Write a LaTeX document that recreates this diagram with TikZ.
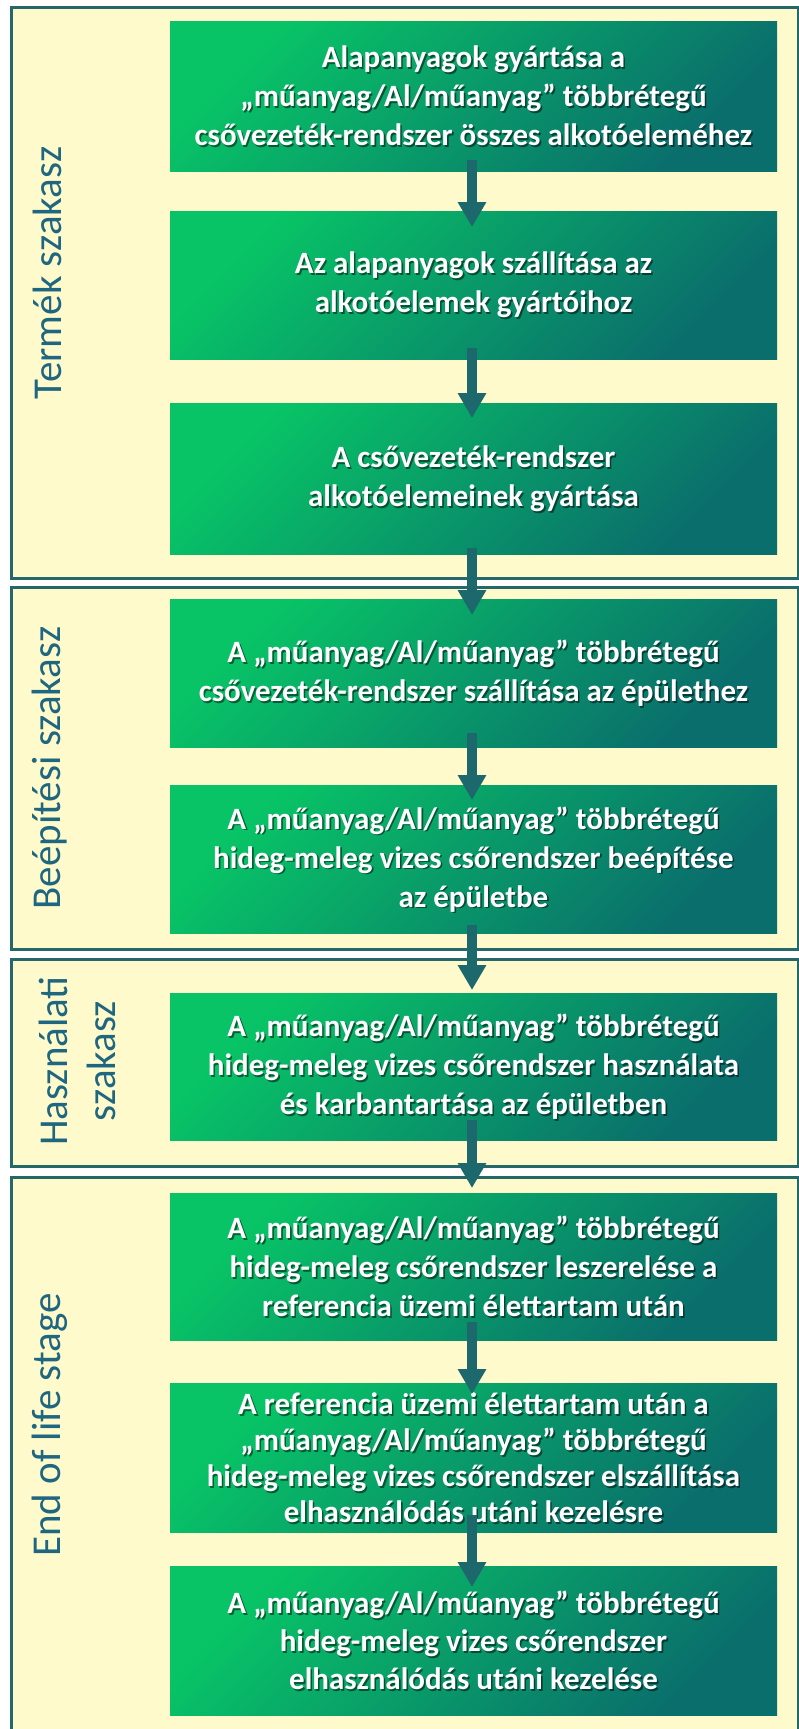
\documentclass[tikz,border=0pt]{standalone}
\usepackage{fontspec}
\setmainfont{Carlito}
\usetikzlibrary{calc,arrows.meta}
\definecolor{framefill}{HTML}{FFFACC}
\definecolor{framedraw}{HTML}{25676B}
\definecolor{arrowc}{HTML}{1C686C}
\definecolor{labelc}{HTML}{1F6680}
\definecolor{gtop}{HTML}{08C466}
\definecolor{gbot}{HTML}{0A6E6C}
\tikzset{
  stageframe/.style={draw=framedraw, line width=3pt, fill=framefill},
  gbox/.style={rectangle, inner sep=0pt, minimum width=607pt, top color=gtop, bottom color=gbot, shading angle=45, anchor=north},
  boxtext/.style={align=center, text=white, inner sep=0pt},
  boxshadow/.style={boxtext, text=black, text opacity=0.5},
  stagelabel/.style={rotate=90, align=center, text=labelc, font=\fontsize{41}{48}\selectfont, inner sep=0pt},
  flowarrow/.style={draw=arrowc, line width=10pt, -{Triangle[width=27pt,length=25pt]}},
}
\newcommand\flowbox[5]{%
  \node[gbox, minimum height=#3pt] (#1) at (473.5,#2) {};
  \node[boxshadow, font=\bfseries\fontsize{31}{#4}\selectfont] (#1s) at ($(#1.center)+(1.6,1.6)$) {#5};
  \node[boxtext, font=\bfseries\fontsize{31}{#4}\selectfont] (#1t) at (#1.center) {#5};
}
\newcommand\linkarrow[4]{\draw[flowarrow] ($(#1.south)+(-1.5,-#3)$) -- ($(#2.north)+(-1.5,#4)$);}
\begin{document}
\begin{tikzpicture}[x=1pt,y=-1pt]
\useasboundingbox (0,0) rectangle (799,1729);
\clip (0,0) rectangle (799,1729);
\fill[white] (0,0) rectangle (799,1729);
% stage frames
\draw[stageframe] (11,7) rectangle (798,578);
\draw[stageframe] (11,587) rectangle (798,949);
\draw[stageframe] (11,959) rectangle (798,1166);
\draw[stageframe] (11,1177) rectangle (798,1760);
% stage labels
\node[stagelabel] (l1) at (47,273) {Termék szakasz};
\node[stagelabel] (l2) at (50,768) {Beépítési szakasz};
\node[stagelabel] (l3) at (77,1061) {Használati\\szakasz};
\node[stagelabel] (l4) at (50,1425) {End of life stage};
% boxes
\flowbox{b1}{21}{150}{39}{Alapanyagok gyártása a\\„műanyag/Al/műanyag” többrétegű\\csővezeték-rendszer összes alkotóeleméhez}
\flowbox{b2}{211}{148}{39}{Az alapanyagok szállítása az\\alkotóelemek gyártóihoz}
\flowbox{b3}{403}{151}{39}{A csővezeték-rendszer\\alkotóelemeinek gyártása}
\flowbox{b4}{599}{148}{39}{A „műanyag/Al/műanyag” többrétegű\\csővezeték-rendszer szállítása az épülethez}
\flowbox{b5}{785}{148}{39}{A „műanyag/Al/műanyag” többrétegű\\hideg-meleg vizes csőrendszer beépítése\\az épületbe}
\flowbox{b6}{993}{147}{39}{A „műanyag/Al/műanyag” többrétegű\\hideg-meleg vizes csőrendszer használata\\és karbantartása az épületben}
\flowbox{b7}{1193}{147}{39}{A „műanyag/Al/műanyag” többrétegű\\hideg-meleg csőrendszer leszerelése a\\referencia üzemi élettartam után}
\flowbox{b8}{1383}{149}{36}{A referencia üzemi élettartam után a\\„műanyag/Al/műanyag” többrétegű\\hideg-meleg vizes csőrendszer elszállítása\\elhasználódás utáni kezelésre}
\flowbox{b9}{1566}{149}{38}{A „műanyag/Al/műanyag” többrétegű\\hideg-meleg vizes csőrendszer\\elhasználódás utáni kezelése}
% arrows
\linkarrow{b1}{b2}{11}{16}
\linkarrow{b2}{b3}{11}{15}
\linkarrow{b3}{b4}{6}{16}
\linkarrow{b4}{b5}{14}{15}
\linkarrow{b5}{b6}{8}{-3}
\linkarrow{b6}{b7}{20}{-5}
\linkarrow{b7}{b8}{18}{11}
\linkarrow{b8}{b9}{17}{21}
\end{tikzpicture}
\end{document}
